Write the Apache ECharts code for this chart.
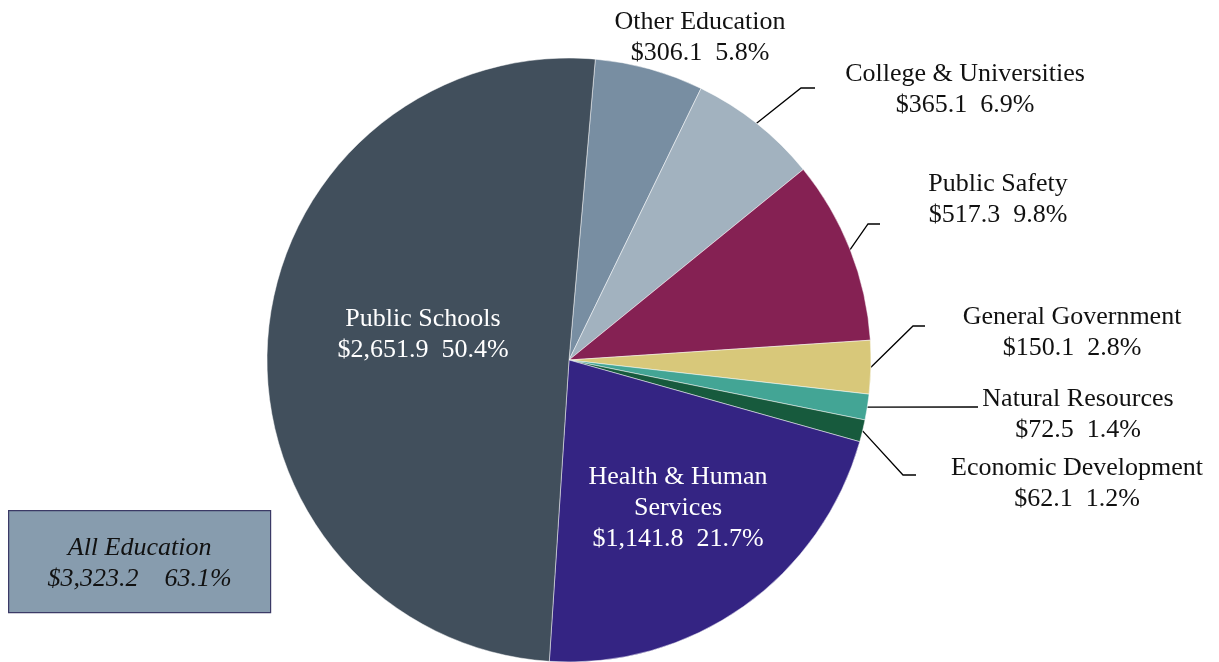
<!DOCTYPE html>
<html>
<head>
<meta charset="utf-8">
<script src="https://cdn.jsdelivr.net/npm/echarts@6/dist/echarts.min.js"></script>
<style>html,body{margin:0;padding:0;background:#fff}#c{width:1219px;height:662px}</style>
</head>
<body>
<div id="c"></div>
<script>
const categories = ['Other Education','College & Universities','Public Safety','General Government','Natural Resources','Economic Development','Health & Human\nServices','Public Schools'];
const values = [306.1, 365.1, 517.3, 150.1, 72.5, 62.1, 1141.8, 2651.9];
const percents = ['5.8%','6.9%','9.8%','2.8%','1.4%','1.2%','21.7%','50.4%'];
const colors = ['#788ea2','#a2b2bf','#852153','#d8c87a','#43a595','#175a3d','#342483','#414f5c'];
const boxLines = ['All Education', '$3,323.2    63.1%'];

// label anchor positions (layout only)
const labelPos = [[700,38],[965,90],[998,200],[1072,333],[1078,415],[1077,484],[678,508],[423,335]];
const lineBend = [null,[801,88],[868,224],[913,326],[976,407],[903,475],null,null];
const lineEnd  = [null,[815,88],[880,224],[925,326],[978,407],[916,475],null,null];
const insideIdx = [6,7];

function fmt(v){ return '$' + v.toLocaleString('en-US',{minimumFractionDigits:1,maximumFractionDigits:1}); }

const data = categories.map((n,i)=>{
  const inside = insideIdx.indexOf(i) >= 0;
  return {
    name: n, value: values[i],
    itemStyle: {color: colors[i]},
    label: {color: inside ? '#ffffff' : '#111111'},
    labelLine: {show: !inside && lineBend[i] !== null}
  };
});

const chart = echarts.init(document.getElementById('c'));
chart.setOption({
  animation: false,
  series: [{
    type: 'pie',
    center: [569, 360],
    radius: [0, 302],
    startAngle: 85,
    clockwise: true,
    data: data,
    itemStyle: {borderColor: 'rgba(255,255,255,0.6)', borderWidth: 0.8},
    label: {
      show: true,
      position: 'outside',
      fontFamily: 'Liberation Serif',
      fontSize: 26,
      lineHeight: 31,
      align: 'center',
      formatter: p => p.name + '\n' + fmt(p.value) + '  ' + percents[p.dataIndex]
    },
    labelLine: {show: true, lineStyle: {color: '#000', width: 1.3}, length: 20, length2: 10},
    labelLayout: function (params) {
      const i = params.dataIndex;
      const out = {x: labelPos[i][0], y: labelPos[i][1], align: 'center', verticalAlign: 'middle'};
      if (lineBend[i] && params.labelLinePoints) {
        out.labelLinePoints = [params.labelLinePoints[0], lineBend[i], lineEnd[i]];
      }
      return out;
    }
  }],
  graphic: [{
    type: 'group',
    left: 8, top: 510,
    children: [
      {type: 'rect', shape: {x: 0, y: 0, width: 262, height: 102}, style: {fill: '#879cae', stroke: '#3b3a66', lineWidth: 1.2}},
      {type: 'text', style: {x: 131, y: 53, text: boxLines.join('\n'), fill: '#111', font: 'italic 26px "Liberation Serif"', lineHeight: 31, align: 'center', verticalAlign: 'middle'}}
    ]
  }]
});
</script>
</body>
</html>
